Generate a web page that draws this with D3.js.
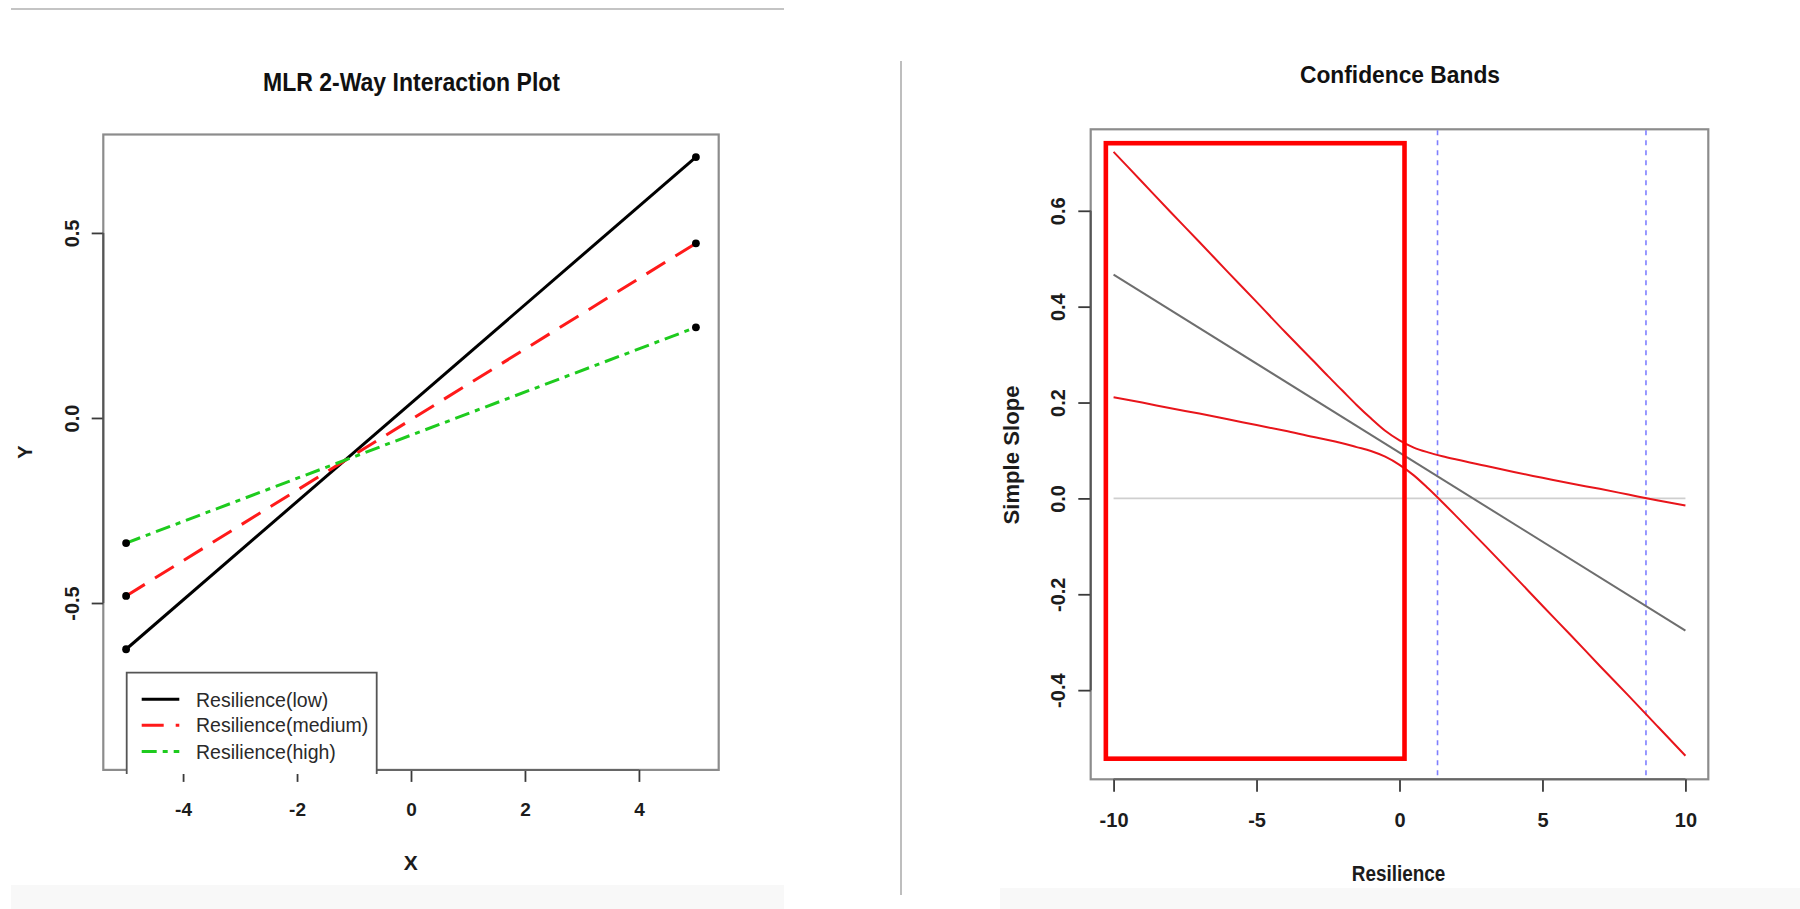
<!DOCTYPE html>
<html>
<head>
<meta charset="utf-8">
<script src="https://cdn.jsdelivr.net/npm/d3@7"></script>
<style>
  html, body { margin: 0; padding: 0; background: #ffffff; }
  svg { display: block; }
  text { font-family: "Liberation Sans", Arial, Helvetica, sans-serif; }
</style>
</head>
<body>
<svg id="chart" width="1800" height="909"></svg>
<script>
// ---------------- Left panel data: MLR 2-Way Interaction Plot ----------------
const xEnds = [-5, 5];
const lowY = [-0.625, 0.705];
const mediumY = [-0.481, 0.472];
const highY = [-0.338, 0.245];
const seriesNames = ["Resilience(low)", "Resilience(medium)", "Resilience(high)"];
const seriesColors = ["#000000", "#ff1a1a", "#1ecb1e"];
const leftXTicks = [-4, -2, 0, 2, 4];
const leftYTicks = [-0.5, 0.0, 0.5];

// ---------------- Right panel data: Confidence Bands ----------------
const bandZ =     [-10,   -9,    -8,    -7,    -6,    -5,    -4,    -3,    -2.5,  -2,    -1.5,  -1,    -0.5,  0,     0.5,   1,     1.5,    2,      3,      4,      5,      6,      7,      8,      9,      10];
const upperBand = [0.723, 0.660, 0.597, 0.535, 0.472, 0.410, 0.347, 0.286, 0.255, 0.225, 0.195, 0.167, 0.141, 0.121, 0.106, 0.096, 0.088,  0.081,  0.068,  0.055,  0.043,  0.031,  0.020,  0.008, -0.004, -0.015];
const lowerBand = [0.211, 0.200, 0.188, 0.177, 0.165, 0.153, 0.141, 0.128, 0.122, 0.115, 0.107, 0.099, 0.087, 0.070, 0.048, 0.021, -0.008, -0.038, -0.099, -0.161, -0.224, -0.286, -0.349, -0.411, -0.474, -0.537];
const slopeZ = [-10, 10];
const slopeVals = [0.467, -0.276];
const zeroLineZ = [-10, 10];
const jnPoints = [1.33, 8.62];
const highlightX = [-10.27, 0.175];
const highlightY = [-0.543, 0.741];
const rightXTicks = [-10, -5, 0, 5, 10];
const rightYTicks = [-0.4, -0.2, 0.0, 0.2, 0.4, 0.6];

const svg = d3.select("#chart");

// ---------- page decorations ----------
svg.append("rect").attr("x", 11).attr("y", 885).attr("width", 773).attr("height", 24).attr("fill", "#f8f8f8");
svg.append("rect").attr("x", 1000).attr("y", 888).attr("width", 800).attr("height", 21).attr("fill", "#f8f8f8");
svg.append("line").attr("x1", 11).attr("x2", 784).attr("y1", 9).attr("y2", 9)
  .attr("stroke", "#c4c4c4").attr("stroke-width", 2);
svg.append("line").attr("x1", 901).attr("x2", 901).attr("y1", 61).attr("y2", 895)
  .attr("stroke", "#a8a8a8").attr("stroke-width", 1.5);

const BOX = "#8c8c8c", AX = "#3a3a3a", TXT = "#1c1c1c";

function bottomAxis(g, x, ticks, yPos, tickLen, baseline, fs, fmt) {
  const ax = d3.axisBottom(x).tickValues(ticks).tickSize(tickLen).tickSizeOuter(0).tickFormat(fmt);
  const a = g.append("g").attr("transform", `translate(0,${yPos})`).call(ax);
  a.select(".domain").remove();
  a.selectAll(".tick line").attr("stroke", AX).attr("stroke-width", 1.8);
  a.selectAll(".tick text").attr("y", baseline - yPos).attr("dy", 0)
    .attr("fill", TXT).style("font-size", fs + "px").style("font-weight", "bold")
    .style("font-family", '"Liberation Sans", Arial, sans-serif');
  g.append("line").attr("x1", x(ticks[0])).attr("x2", x(ticks[ticks.length - 1]))
    .attr("y1", yPos).attr("y2", yPos).attr("stroke", "#666").attr("stroke-width", 2);
}
function leftAxis(g, y, ticks, xPos, tickLen, baseline, fs, fmt) {
  const ax = d3.axisLeft(y).tickValues(ticks).tickSize(tickLen).tickSizeOuter(0).tickFormat(fmt);
  const a = g.append("g").attr("transform", `translate(${xPos},0)`).call(ax);
  a.select(".domain").remove();
  a.selectAll(".tick line").attr("stroke", AX).attr("stroke-width", 1.8);
  a.selectAll(".tick text").attr("x", 0).attr("y", 0).attr("dy", 0)
    .attr("transform", `translate(${baseline - xPos},0) rotate(-90)`)
    .attr("text-anchor", "middle")
    .attr("fill", TXT).style("font-size", fs + "px").style("font-weight", "bold")
    .style("font-family", '"Liberation Sans", Arial, sans-serif');
  const ext = d3.extent(ticks);
  g.append("line").attr("x1", xPos).attr("x2", xPos)
    .attr("y1", y(ext[0])).attr("y2", y(ext[1])).attr("stroke", "#555").attr("stroke-width", 2);
}

// =============== LEFT PANEL ===============
const xL = d3.scaleLinear().domain([-5.4, 5.4]).range([103.3, 718.7]);
const yL = d3.scaleLinear().domain([-0.951, 0.766]).range([769.9, 134.5]);
const gL = svg.append("g");

gL.append("text").attr("x", 411.5).attr("y", 91).attr("text-anchor", "middle")
  .style("font-size", "26.5px").style("font-weight", "bold").attr("fill", "#111")
  .attr("textLength", 297).attr("lengthAdjust", "spacingAndGlyphs")
  .text("MLR 2-Way Interaction Plot");

gL.append("rect").attr("x", xL.range()[0]).attr("y", yL.range()[1])
  .attr("width", xL.range()[1] - xL.range()[0]).attr("height", yL.range()[0] - yL.range()[1])
  .attr("fill", "none").attr("stroke", BOX).attr("stroke-width", 2.2);

bottomAxis(gL, xL, leftXTicks, yL.range()[0], 12, 816.5, 19, d => String(d));
leftAxis(gL, yL, leftYTicks, xL.range()[0], 11.6, 78.6, 20, d => d.toFixed(1));

gL.append("text").attr("x", 410.8).attr("y", 870).attr("text-anchor", "middle")
  .style("font-size", "21px").style("font-weight", "bold").attr("fill", TXT).text("X");
gL.append("text").attr("transform", "translate(31.5,452) rotate(-90)").attr("text-anchor", "middle")
  .style("font-size", "20px").style("font-weight", "bold").attr("fill", TXT).text("Y");

const leftSeries = [lowY, mediumY, highY];
const dashes = [null, "22,12", "15,6,5,6"];
const lineL = d3.line().x(d => xL(d[0])).y(d => yL(d[1]));
leftSeries.forEach((s, i) => {
  const pts = xEnds.map((x, j) => [x, s[j]]);
  gL.append("path").attr("d", lineL(pts)).attr("fill", "none")
    .attr("stroke", seriesColors[i]).attr("stroke-width", 3)
    .attr("stroke-dasharray", dashes[i]);
});
leftSeries.forEach(s => {
  xEnds.forEach((x, j) => {
    gL.append("circle").attr("cx", xL(x)).attr("cy", yL(s[j])).attr("r", 3.9).attr("fill", "#000");
  });
});

// legend (drawn on top of the axis, covering the box bottom like the original)
const legL = 126.7, legT = 672.7, legR = 376.7, legB = 774;
gL.append("rect").attr("x", legL).attr("y", legT).attr("width", legR - legL).attr("height", legB - legT)
  .attr("fill", "#ffffff");
gL.append("path").attr("d", `M${legL},${legB} V${legT} H${legR} V${legB}`)
  .attr("fill", "none").attr("stroke", "#555").attr("stroke-width", 1.8);
const rowY = [699.3, 725.2, 751.5];
seriesNames.forEach((name, i) => {
  gL.append("line").attr("x1", 141.7).attr("x2", 179.3).attr("y1", rowY[i]).attr("y2", rowY[i])
    .attr("stroke", seriesColors[i]).attr("stroke-width", 3).attr("stroke-dasharray", dashes[i]);
  gL.append("text").attr("x", 196).attr("y", rowY[i] + 7.2)
    .style("font-size", "19.5px").attr("fill", "#2a2a2a").text(name);
});

// =============== RIGHT PANEL ===============
const xR = d3.scaleLinear().domain([-10.8, 10.8]).range([1090.7, 1708.3]);
const yR = d3.scaleLinear().domain([-0.586, 0.770]).range([779.3, 129.3]);
const gR = svg.append("g");

gR.append("text").attr("x", 1400).attr("y", 82.5).attr("text-anchor", "middle")
  .style("font-size", "24.7px").style("font-weight", "bold").attr("fill", "#111")
  .attr("textLength", 200).attr("lengthAdjust", "spacingAndGlyphs")
  .text("Confidence Bands");

gR.append("rect").attr("x", xR.range()[0]).attr("y", yR.range()[1])
  .attr("width", xR.range()[1] - xR.range()[0]).attr("height", yR.range()[0] - yR.range()[1])
  .attr("fill", "none").attr("stroke", BOX).attr("stroke-width", 2.2);

bottomAxis(gR, xR, rightXTicks, yR.range()[0], 12.5, 827.3, 20, d => String(d));
leftAxis(gR, yR, rightYTicks, xR.range()[0], 12.4, 1065, 20, d => d.toFixed(1));

gR.append("text").attr("x", 1398.5).attr("y", 881).attr("text-anchor", "middle")
  .style("font-size", "22px").style("font-weight", "bold").attr("fill", TXT)
  .attr("textLength", 93.5).attr("lengthAdjust", "spacingAndGlyphs").text("Resilience");
gR.append("text").attr("transform", "translate(1018.5,455) rotate(-90)").attr("text-anchor", "middle")
  .style("font-size", "21.5px").style("font-weight", "bold").attr("fill", TXT)
  .attr("textLength", 139).attr("lengthAdjust", "spacingAndGlyphs").text("Simple Slope");

// zero reference line
gR.append("line").attr("x1", xR(zeroLineZ[0])).attr("x2", xR(zeroLineZ[1]))
  .attr("y1", yR(0)).attr("y2", yR(0)).attr("stroke", "#cfcfcf").attr("stroke-width", 1.6);

// Johnson-Neyman lines
jnPoints.forEach(z => {
  gR.append("line").attr("x1", xR(z)).attr("x2", xR(z))
    .attr("y1", yR.range()[1] + 1).attr("y2", yR.range()[0] - 1)
    .attr("stroke", "#7f7fff").attr("stroke-width", 1.6).attr("stroke-dasharray", "5,5");
});

// simple slope line
const lineR = d3.line().x(d => xR(d[0])).y(d => yR(d[1]));
gR.append("path").attr("d", lineR(slopeZ.map((z, i) => [z, slopeVals[i]])))
  .attr("fill", "none").attr("stroke", "#6e6e6e").attr("stroke-width", 2);

// confidence bands
const bandLine = d3.line().x(d => xR(d[0])).y(d => yR(d[1])).curve(d3.curveMonotoneX);
[upperBand, lowerBand].forEach(b => {
  gR.append("path").attr("d", bandLine(bandZ.map((z, i) => [z, b[i]])))
    .attr("fill", "none").attr("stroke", "#e8151b").attr("stroke-width", 2);
});

// highlight rectangle annotation
gR.append("rect").attr("x", xR(highlightX[0])).attr("y", yR(highlightY[1]))
  .attr("width", xR(highlightX[1]) - xR(highlightX[0]))
  .attr("height", yR(highlightY[0]) - yR(highlightY[1]))
  .attr("fill", "none").attr("stroke", "#ff0000").attr("stroke-width", 4.6);
</script>
</body>
</html>
